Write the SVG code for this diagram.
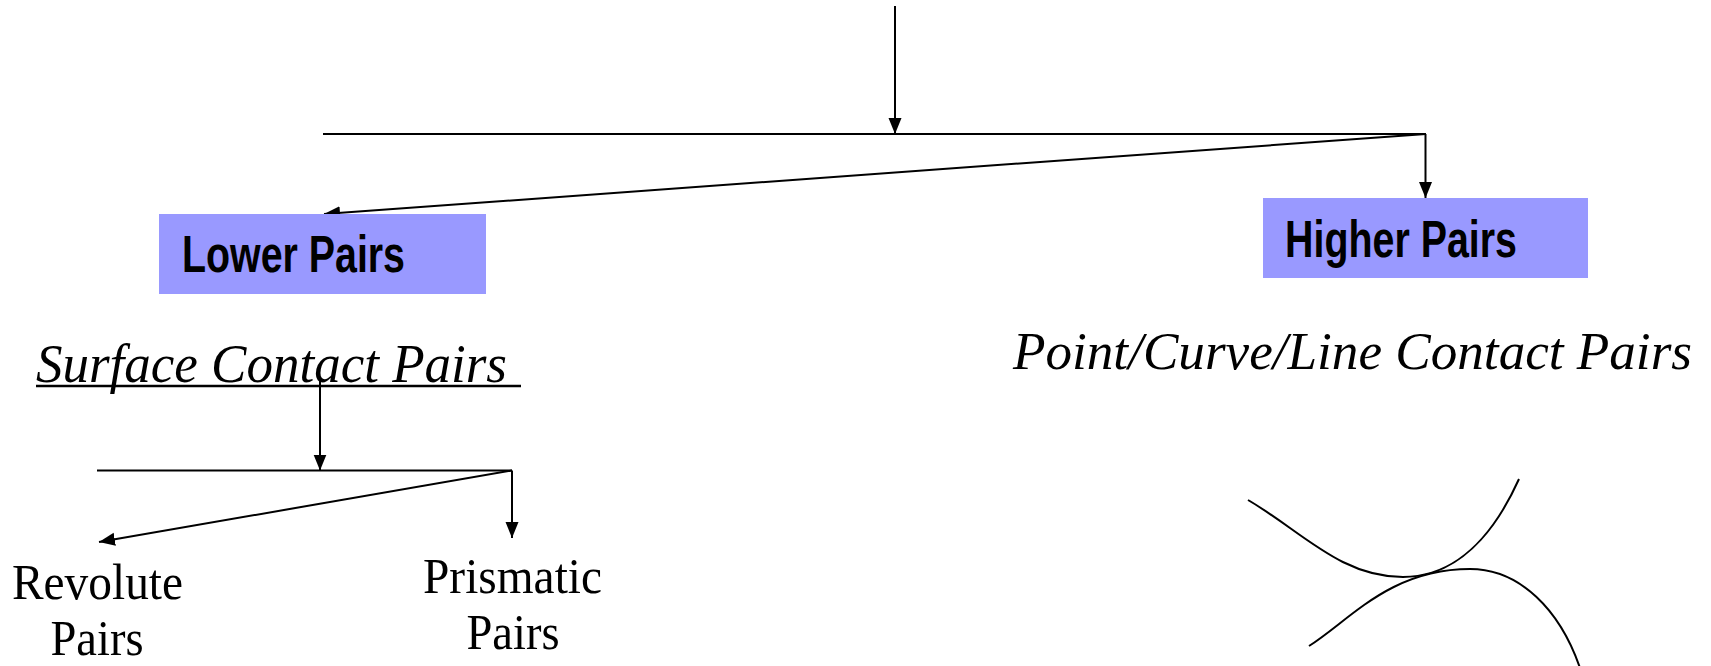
<svg xmlns="http://www.w3.org/2000/svg" width="1711" height="666" viewBox="0 0 1711 666">
<style>
.ln{stroke:#000;stroke-width:2;fill:none}
.arr{marker-end:url(#ah)}
.box{fill:#9999FF}
.bold{font-family:"Liberation Sans",Arial,sans-serif;font-weight:bold;font-size:52px;fill:#000}
.ital{font-family:"Liberation Serif","Times New Roman",serif;font-style:italic;font-size:55px;fill:#000}
.rom{font-family:"Liberation Serif","Times New Roman",serif;font-size:50px;fill:#000;text-anchor:middle}
</style>
<defs>
<marker id="ah" markerUnits="userSpaceOnUse" markerWidth="17" markerHeight="14" refX="16" refY="6.5" orient="auto">
<path d="M0,0 L16,6.5 L0,13 z" fill="#000"/>
</marker>
</defs>
<rect width="1711" height="666" fill="#fff"/>
<g id="connectors">
<line class="ln arr" x1="895" y1="6" x2="895" y2="134"/>
<line class="ln" x1="323" y1="134" x2="1426" y2="134"/>
<line class="ln arr" x1="1426" y1="134" x2="324" y2="214"/>
<line class="ln arr" x1="1425.5" y1="134" x2="1425.5" y2="198"/>
<line class="ln arr" x1="320" y1="379" x2="320" y2="470.5"/>
<line class="ln" x1="97" y1="470.5" x2="512" y2="470.5"/>
<line class="ln arr" x1="512" y1="470.5" x2="99" y2="542"/>
<line class="ln arr" x1="512" y1="470.5" x2="512" y2="538"/>
</g>
<g id="lower-pairs">
<rect class="box" x="159" y="214" width="327" height="80"/>
<text class="bold" x="182" y="272" textLength="223" lengthAdjust="spacingAndGlyphs">Lower Pairs</text>
</g>
<g id="higher-pairs">
<rect class="box" x="1263" y="198" width="325" height="80"/>
<text class="bold" x="1285" y="257" textLength="232" lengthAdjust="spacingAndGlyphs">Higher Pairs</text>
</g>
<g id="surface-contact">
<text class="ital" x="36" y="382" textLength="471" lengthAdjust="spacingAndGlyphs">Surface Contact Pairs</text>
<line x1="36" y1="386" x2="521" y2="386" stroke="#000" stroke-width="2.5"/>
</g>
<g id="point-contact">
<text class="ital" x="1013" y="369" style="font-size:53px" textLength="679" lengthAdjust="spacingAndGlyphs">Point/Curve/Line Contact Pairs</text>
</g>
<g id="revolute">
<text class="rom" x="97.5" y="599" textLength="171" lengthAdjust="spacingAndGlyphs">Revolute</text>
<text class="rom" x="97" y="655" textLength="93" lengthAdjust="spacingAndGlyphs">Pairs</text>
</g>
<g id="prismatic">
<text class="rom" x="512.5" y="593" textLength="179" lengthAdjust="spacingAndGlyphs">Prismatic</text>
<text class="rom" x="513" y="649" textLength="93" lengthAdjust="spacingAndGlyphs">Pairs</text>
</g>
<g id="curves">
<path class="ln" d="M1248,500 C1300,530 1340,577 1403,577 C1470,577 1505,510 1519,479"/>
<path class="ln" d="M1309,646 C1350,620 1390,569 1470,569 C1520,569 1560,610 1580,668"/>
</g>
</svg>
